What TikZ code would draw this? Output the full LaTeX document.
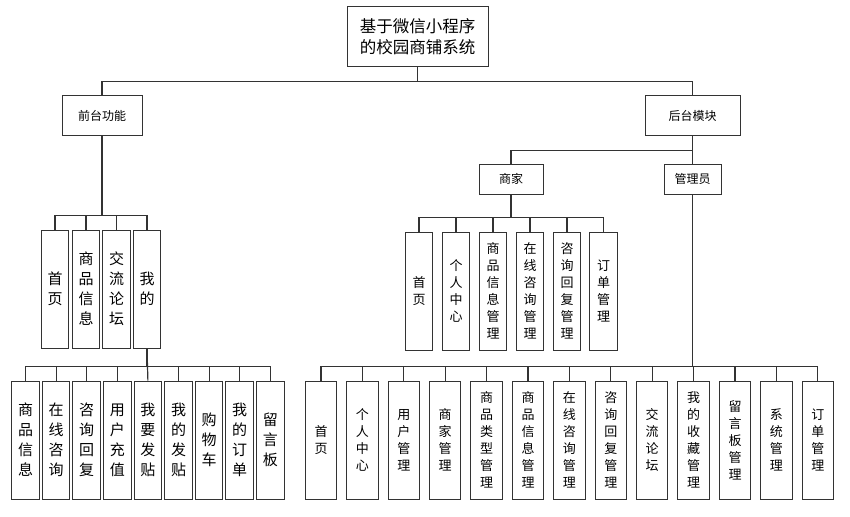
\documentclass[tikz,border=0pt]{standalone}
\usepackage{fontspec}
\setmainfont{Noto Sans CJK SC}

\tikzset{
    box/.style={draw=black!80, line width=1pt, inner sep=0pt, align=center},
    titlebox/.style={box, minimum width=141pt, minimum height=60pt, font=\fontsize{16.5}{21}\selectfont},
    modbox/.style={box, minimum height=39pt, font=\fontsize{12}{14}\selectfont},
    subbox/.style={box, minimum height=30pt, font=\fontsize{12}{14}\selectfont},
    bigleaf/.style={box, minimum width=27.5pt, minimum height=118pt, font=\fontsize{15}{20}\selectfont},
    smallleaf/.style={box, minimum width=27.5pt, minimum height=118pt, font=\fontsize{13}{17}\selectfont},
    wideleaf/.style={box, minimum width=31.5pt, minimum height=118pt, font=\fontsize{13}{17}\selectfont},
    link/.style={draw=black!80, line width=1.2pt},
}

\begin{document}
\begin{tikzpicture}[x=1pt, y=-1pt]
    \useasboundingbox (0,0) rectangle (850,516);

    \node[titlebox] (sys) at (417.5, 37) {基于微信小程序\\的校园商铺系统};

    \node[modbox, minimum width=80pt] (front) at (102, 115.5) {前台功能};
    \node[modbox, minimum width=95pt] (back) at (692.5, 115.5) {后台模块};

    \node[subbox, minimum width=64pt] (shop) at (511, 179) {商家};
    \node[subbox, minimum width=57pt] (admin) at (692.5, 179) {管理员};

    % front children
    \node[bigleaf] (f1) at (55, 289) {首\\页};
    \node[bigleaf] (f2) at (86, 289) {商\\品\\信\\息};
    \node[bigleaf] (f3) at (116.5, 289) {交\\流\\论\\坛};
    \node[bigleaf] (f4) at (147, 289) {我\\的};

    % my page children
    \node[bigleaf] (m1) at (25.5, 440) {商\\品\\信\\息};
    \node[bigleaf] (m2) at (56.1, 440) {在\\线\\咨\\询};
    \node[bigleaf] (m3) at (86.7, 440) {咨\\询\\回\\复};
    \node[bigleaf] (m4) at (117.3, 440) {用\\户\\充\\值};
    \node[bigleaf] (m5) at (147.9, 440) {我\\要\\发\\贴};
    \node[bigleaf] (m6) at (178.5, 440) {我\\的\\发\\贴};
    \node[bigleaf] (m7) at (209.1, 440) {购\\物\\车};
    \node[bigleaf] (m8) at (239.7, 440) {我\\的\\订\\单};
    \node[bigleaf] (m9) at (270.3, 440) {留\\言\\板};

    % shop children
    \node[smallleaf] (s1) at (419, 291) {首\\页};
    \node[smallleaf] (s2) at (456, 291) {个\\人\\中\\心};
    \node[smallleaf] (s3) at (493, 291) {商\\品\\信\\息\\管\\理};
    \node[smallleaf] (s4) at (530, 291) {在\\线\\咨\\询\\管\\理};
    \node[smallleaf] (s5) at (567, 291) {咨\\询\\回\\复\\管\\理};
    \node[smallleaf] (s6) at (603.5, 291) {订\\单\\管\\理};

    % admin children
    \node[wideleaf] (a1) at (321, 440) {首\\页};
    \node[wideleaf] (a2) at (362.4, 440) {个\\人\\中\\心};
    \node[wideleaf] (a3) at (403.8, 440) {用\\户\\管\\理};
    \node[wideleaf] (a4) at (445.2, 440) {商\\家\\管\\理};
    \node[wideleaf] (a5) at (486.6, 440) {商\\品\\类\\型\\管\\理};
    \node[wideleaf] (a6) at (528, 440) {商\\品\\信\\息\\管\\理};
    \node[wideleaf] (a7) at (569.4, 440) {在\\线\\咨\\询\\管\\理};
    \node[wideleaf] (a8) at (610.8, 440) {咨\\询\\回\\复\\管\\理};
    \node[wideleaf] (a9) at (652.2, 440) {交\\流\\论\\坛};
    \node[wideleaf] (a10) at (693.6, 440) {我\\的\\收\\藏\\管\\理};
    \node[wideleaf] (a11) at (735, 440) {留\\言\\板\\管\\理};
    \node[wideleaf] (a12) at (776.4, 440) {系\\统\\管\\理};
    \node[wideleaf] (a13) at (817.8, 440) {订\\单\\管\\理};

    \draw[link] (sys.south) -- ++(0,14) -| (front.north);
    \draw[link] (sys.south) -- ++(0,14) -| (back.north);

    \draw[link] (back.south) -- ++(0,15) -| (shop.north);
    \draw[link] (back.south) -- (admin.north);

    \draw[link] (front.south) -- ++(0,80) -| (f1.north);
    \draw[link] (front.south) -- ++(0,80) -| (f2.north);
    \draw[link] (front.south) -- ++(0,80) -| (f3.north);
    \draw[link] (front.south) -- ++(0,80) -| (f4.north);

    \draw[link] (f4.south) -- ++(0,18) -| (m1.north);
    \draw[link] (f4.south) -- ++(0,18) -| (m2.north);
    \draw[link] (f4.south) -- ++(0,18) -| (m3.north);
    \draw[link] (f4.south) -- ++(0,18) -| (m4.north);
    \draw[link] (f4.south) -- (m5.north);
    \draw[link] (f4.south) -- ++(0,18) -| (m6.north);
    \draw[link] (f4.south) -- ++(0,18) -| (m7.north);
    \draw[link] (f4.south) -- ++(0,18) -| (m8.north);
    \draw[link] (f4.south) -- ++(0,18) -| (m9.north);

    \draw[link] (shop.south) -- ++(0,23) -| (s1.north);
    \draw[link] (shop.south) -- ++(0,23) -| (s2.north);
    \draw[link] (shop.south) -- ++(0,23) -| (s3.north);
    \draw[link] (shop.south) -- ++(0,23) -| (s4.north);
    \draw[link] (shop.south) -- ++(0,23) -| (s5.north);
    \draw[link] (shop.south) -- ++(0,23) -| (s6.north);

    \draw[link] (admin.south) -- ++(0,172) -| (a1.north);
    \draw[link] (admin.south) -- ++(0,172) -| (a2.north);
    \draw[link] (admin.south) -- ++(0,172) -| (a3.north);
    \draw[link] (admin.south) -- ++(0,172) -| (a4.north);
    \draw[link] (admin.south) -- ++(0,172) -| (a5.north);
    \draw[link] (admin.south) -- ++(0,172) -| (a6.north);
    \draw[link] (admin.south) -- ++(0,172) -| (a7.north);
    \draw[link] (admin.south) -- ++(0,172) -| (a8.north);
    \draw[link] (admin.south) -- ++(0,172) -| (a9.north);
    \draw[link] (admin.south) -- ++(0,172) -| (a10.north);
    \draw[link] (admin.south) -- ++(0,172) -| (a11.north);
    \draw[link] (admin.south) -- ++(0,172) -| (a12.north);
    \draw[link] (admin.south) -- ++(0,172) -| (a13.north);
\end{tikzpicture}
\end{document}
